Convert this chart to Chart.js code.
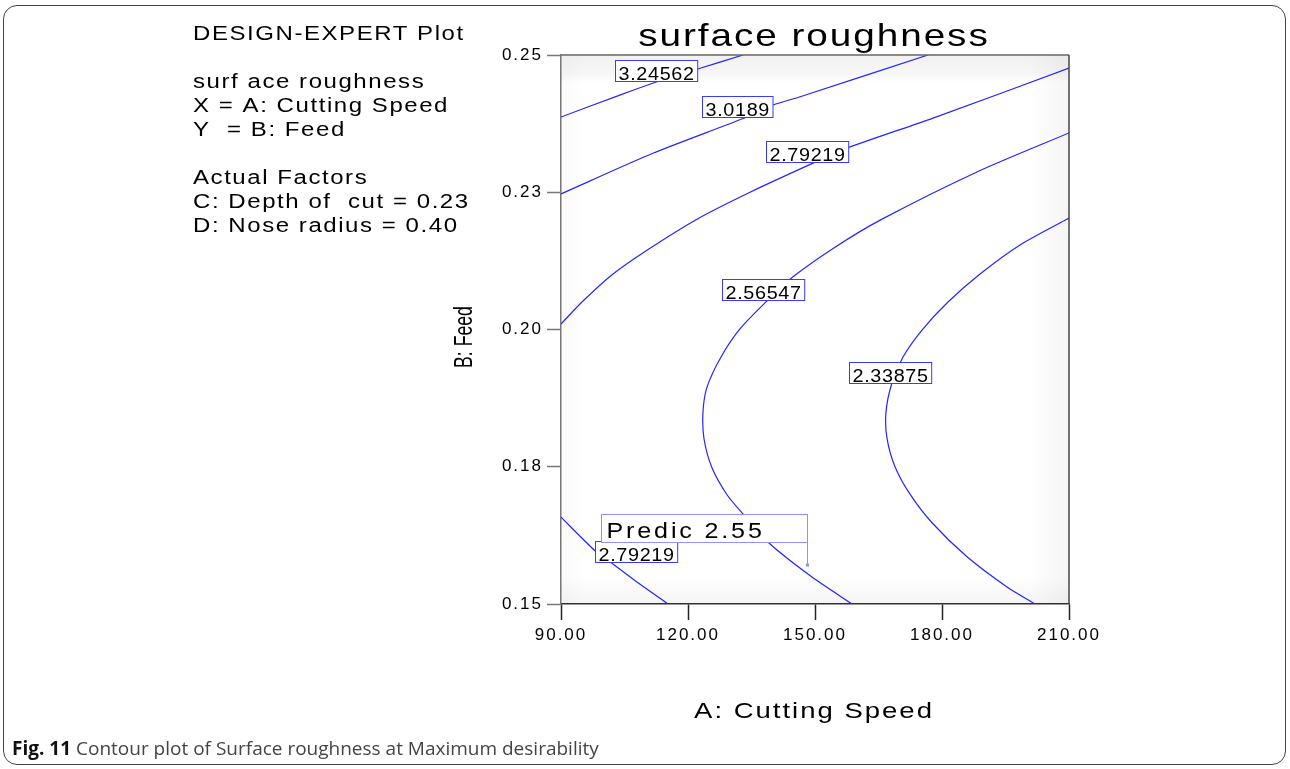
<!DOCTYPE html>
<html>
<head>
<meta charset="utf-8">
<script src="https://cdn.jsdelivr.net/npm/chart.js@4.4.0/dist/chart.umd.min.js"></script>
<style>
  html, body { margin: 0; padding: 0; background: #fff; }
  #wrap { position: relative; width: 1290px; height: 769px; overflow: hidden; }
  #frame { position: absolute; left: 3px; top: 5px; width: 1283px; height: 760px; border: 1.5px solid #444; border-radius: 14px; box-sizing: border-box; }
  canvas { position: absolute; left: 0; top: 0; }
  #caption { position: absolute; left: 12px; top: 737px; font-family: 'Open Sans', sans-serif; font-size: 19px; line-height: 22px; color: #444; white-space: nowrap; }
  #caption b { color: #111; }
</style>
</head>
<body>
<div id="wrap">
  <div id="frame"></div>
  <canvas id="plot" width="1290" height="769"></canvas>
  <div id="caption"><b>Fig. 11</b> Contour plot of Surface roughness at Maximum desirability</div>
</div>
<script>
const xTicks = [90, 120, 150, 180, 210];
const yTicks = [0.15, 0.175, 0.2, 0.225, 0.25];
const yTickLabels = ["0.15", "0.18", "0.20", "0.23", "0.25"];

// contour lines
const c1X = [90, 103.9, 113.4, 122.1, 133.0];
const c1Y = [0.2387, 0.2427, 0.2453, 0.2474, 0.25];
const c2X = [90, 111.7, 133.9, 140.1, 146.5, 176.7];
const c2Y = [0.2247, 0.2321, 0.2387, 0.2409, 0.2424, 0.25];
const c3X = [90, 94.96, 102.28, 111.02, 122.13, 134.65, 149.53, 157.8, 177.88, 210];
const c3Y = [0.201, 0.205, 0.2101, 0.2148, 0.2201, 0.225, 0.2303, 0.2331, 0.2385, 0.2476];
const c4X = [210, 188.27, 165.83, 154.73, 144.8, 138.66, 132.28, 127.8, 124.49, 123.54, 123.78, 125.67, 129.21, 132.99, 139.13, 149.29, 158.74];
const c4Y = [0.2358, 0.2287, 0.2201, 0.215, 0.2096, 0.2052, 0.2001, 0.195, 0.1895, 0.185, 0.1801, 0.1748, 0.1699, 0.1664, 0.1611, 0.1549, 0.15];
const c5X = [210, 198.43, 188.98, 181.42, 175.28, 170.79, 168.19, 166.77, 167.0, 168.9, 172.44, 177.64, 185.91, 195.36, 201.97];
const c5Y = [0.2203, 0.2154, 0.2101, 0.205, 0.1999, 0.195, 0.1903, 0.185, 0.1802, 0.175, 0.17, 0.1648, 0.1586, 0.1531, 0.15];
const c6X = [90, 98.03, 101.57, 107.95, 115.28];
const c6Y = [0.1658, 0.1597, 0.1577, 0.154, 0.15];

// contour labels
const labelText = ["3.24562", "3.0189", "2.79219", "2.56547", "2.33875", "2.79219"];
const labelX = [112.44, 131.7, 148.1, 137.7, 167.7, 107.8];
const labelY = [0.2471, 0.2407, 0.2324, 0.2072, 0.1922, 0.1596];

// prediction flag
const predX = 148.1;
const predY = 0.1571;
const predText = "Predic 2.55";

const infoLines = [
  [40, "DESIGN-EXPERT Plot"],
  [88, "surf ace roughness"],
  [112, "X = A: Cutting Speed"],
  [136, "Y  = B: Feed"],
  [184, "Actual Factors"],
  [208, "C: Depth of  cut = 0.23"],
  [232, "D: Nose radius = 0.40"]
];

const FONT = '"Liberation Sans", Arial, sans-serif';
const BLUE = "#2424ff";

function pts(xs, ys) {
  return xs.map((x, i) => ({ x: x, y: ys[i] }));
}

function line(xs, ys) {
  return {
    data: pts(xs, ys),
    showLine: true,
    borderColor: BLUE,
    borderWidth: 1.2,
    pointRadius: 0,
    tension: 0.25,
    fill: false
  };
}

// text stretched a bit wider, like the Design-Expert export
function txt(ctx, s, x, y, size, spacing, align, sx) {
  ctx.save();
  ctx.font = size + "px " + FONT;
  ctx.letterSpacing = spacing + "px";
  ctx.textBaseline = "alphabetic";
  ctx.fillStyle = "#000";
  ctx.translate(x, y);
  ctx.scale(sx || 1, 1);
  const w = ctx.measureText(s).width - spacing;
  let x0 = 0;
  if (align === "center") x0 = -w / 2;
  ctx.fillText(s, x0, 0);
  ctx.restore();
}

const extras = {
  id: "extras",
  beforeDraw(chart) {
    chart.ctx.letterSpacing = "2px";
  },
  beforeDatasetsDraw(chart) {
    const ctx = chart.ctx;
    const a = chart.chartArea;
    ctx.save();
    let g = ctx.createLinearGradient(0, a.top, 0, a.top + 28);
    g.addColorStop(0, "rgba(0,0,0,0.055)");
    g.addColorStop(0.7, "rgba(0,0,0,0.03)");
    g.addColorStop(1, "rgba(0,0,0,0)");
    ctx.fillStyle = g;
    ctx.fillRect(a.left, a.top, a.right - a.left, 28);
    g = ctx.createLinearGradient(0, a.bottom, 0, a.bottom - 28);
    g.addColorStop(0, "rgba(0,0,0,0.04)");
    g.addColorStop(1, "rgba(0,0,0,0)");
    ctx.fillStyle = g;
    ctx.fillRect(a.left, a.bottom - 28, a.right - a.left, 28);
    g = ctx.createLinearGradient(a.right, 0, a.right - 40, 0);
    g.addColorStop(0, "rgba(0,0,0,0.04)");
    g.addColorStop(1, "rgba(0,0,0,0)");
    ctx.fillStyle = g;
    ctx.fillRect(a.right - 40, a.top, 40, a.bottom - a.top);
    g = ctx.createLinearGradient(a.left, 0, a.left + 25, 0);
    g.addColorStop(0, "rgba(0,0,0,0.02)");
    g.addColorStop(1, "rgba(0,0,0,0)");
    ctx.fillStyle = g;
    ctx.fillRect(a.left, a.top, 25, a.bottom - a.top);
    ctx.restore();
  },
  afterDraw(chart) {
    const ctx = chart.ctx;
    ctx.letterSpacing = "0px";
    const a = chart.chartArea;
    const xs = chart.scales.x, ys = chart.scales.y;

    // top and right frame
    ctx.save();
    ctx.strokeStyle = "#666";
    ctx.lineWidth = 1.5;
    ctx.beginPath();
    ctx.moveTo(a.left, a.top);
    ctx.lineTo(a.right, a.top);
    ctx.stroke();
    ctx.strokeStyle = "#444";
    ctx.beginPath();
    ctx.moveTo(a.right, a.top);
    ctx.lineTo(a.right, a.bottom);
    ctx.stroke();
    ctx.restore();

    // contour labels
    labelText.forEach((s, i) => {
      const px = xs.getPixelForValue(labelX[i]);
      const py = ys.getPixelForValue(labelY[i]);
      ctx.save();
      ctx.font = "18px " + FONT;
      ctx.letterSpacing = "0.6px";
      const w = ctx.measureText(s).width * 1.1 + 6;
      const left = Math.round(px - w / 2) + 0.5;
      const top = Math.round(py - 10.5) + 0.5;
      ctx.fillStyle = "#fff";
      ctx.fillRect(left, top, w, 21);
      ctx.strokeStyle = "#3a3aff";
      ctx.lineWidth = 1;
      ctx.strokeRect(left, top, w, 21);
      ctx.restore();
      txt(ctx, s, left + 3, top + 19.5, 18, 0.6, "left", 1.1);
    });

    // prediction flag
    const fx = Math.round(xs.getPixelForValue(predX)) + 0.5;
    const fy = ys.getPixelForValue(predY);
    ctx.save();
    ctx.strokeStyle = "#9090ff";
    ctx.lineWidth = 1;
    ctx.fillStyle = "#fff";
    const bTop = Math.round(fy - 51) + 0.5;
    ctx.fillRect(fx - 206, bTop, 206, 28);
    ctx.strokeRect(fx - 206, bTop, 206, 28);
    ctx.beginPath();
    ctx.moveTo(fx, bTop + 28);
    ctx.lineTo(fx, fy);
    ctx.stroke();
    ctx.fillStyle = "#9090ff";
    ctx.fillRect(fx - 1.5, fy - 1.5, 3, 3);
    ctx.restore();
    txt(ctx, predText, fx - 201, bTop + 23, 22, 2.5, "left", 1.14);

    // titles and info text
    txt(ctx, "surface roughness", 813, 46, 32, 1.6, "center", 1.21);
    infoLines.forEach(l => txt(ctx, l[1], 193, l[0], 20, 1.3, "left", 1.2));
    txt(ctx, "A: Cutting Speed", 813, 718, 22, 1.6, "center", 1.25);

    ctx.save();
    ctx.translate(472, 337);
    ctx.rotate(-Math.PI / 2);
    ctx.scale(0.68, 1);
    ctx.font = "26px " + FONT;
    ctx.textAlign = "center";
    ctx.textBaseline = "alphabetic";
    ctx.fillStyle = "#000";
    ctx.fillText("B: Feed", 0, 0);
    ctx.restore();
  }
};

new Chart(document.getElementById("plot"), {
  type: "scatter",
  data: {
    datasets: [
      line(c1X, c1Y), line(c2X, c2Y), line(c3X, c3Y),
      line(c4X, c4Y), line(c5X, c5Y), line(c6X, c6Y)
    ]
  },
  options: {
    responsive: false,
    animation: false,
    devicePixelRatio: 1,
    layout: { padding: { left: 0, top: 55, right: 221, bottom: 0 } },
    plugins: { legend: { display: false }, tooltip: { enabled: false } },
    scales: {
      x: {
        type: "linear",
        min: 90,
        max: 210,
        afterFit: s => { s.height = 165; },
        afterBuildTicks: s => { s.ticks = xTicks.map(v => ({ value: v })); },
        grid: { drawOnChartArea: false, tickLength: 16, tickColor: "#222", tickWidth: 1.5 },
        border: { color: "#333", width: 1.5 },
        ticks: {
          padding: 5,
          color: "#000",
          font: { family: FONT, size: 17 },
          maxRotation: 0,
          callback: v => v.toFixed(2)
        }
      },
      y: {
        type: "linear",
        min: 0.15,
        max: 0.25,
        afterFit: s => { s.width = 561; },
        afterBuildTicks: s => { s.ticks = yTicks.map(v => ({ value: v })); },
        grid: { drawOnChartArea: false, tickLength: 14, tickColor: "#777", tickWidth: 1.5 },
        border: { color: "#777", width: 1.5 },
        ticks: {
          padding: 4,
          color: "#000",
          font: { family: FONT, size: 17 },
          callback: (v, i) => yTickLabels[i]
        }
      }
    }
  },
  plugins: [extras]
});
</script>
</body>
</html>
